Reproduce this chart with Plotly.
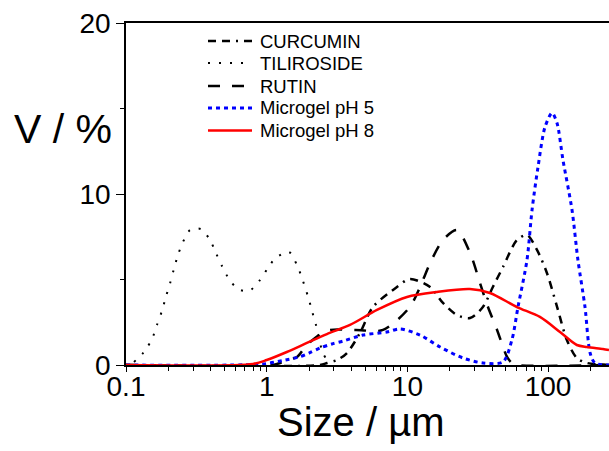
import plotly.graph_objects as go

# ---- data (size in µm, volume %) ----
cur_x = [0.1, 2.39, 2.69, 3.16, 3.72, 4.60, 5.69, 8.43, 10.4, 14.5, 17.9, 22.5, 27.9, 34.4, 40.5, 47.8, 60.1, 70.8, 83.4, 98.1, 116, 136, 160, 189, 271]
cur_y = [0, 0, 0.12, 0.29, 0.70, 1.87, 3.39, 4.56, 5.03, 4.56, 3.63, 2.92, 2.75, 3.39, 4.56, 5.73, 7.31, 7.60, 6.73, 5.38, 3.39, 1.46, 0.41, 0.12, 0]

til_x = [0.114, 0.134, 0.153, 0.166, 0.180, 0.192, 0.206, 0.219, 0.234, 0.254, 0.285, 0.341, 0.395, 0.436, 0.481, 0.540, 0.625, 0.748, 0.896, 1.02, 1.16, 1.44, 1.64, 1.78, 1.97, 2.10, 2.24, 2.51, 2.82]
til_y = [0.18, 0.76, 1.52, 2.34, 3.16, 3.98, 4.80, 5.61, 6.43, 7.19, 7.89, 7.95, 7.31, 6.55, 5.79, 5.03, 4.44, 4.33, 4.97, 5.67, 6.26, 6.61, 5.85, 5.09, 3.98, 3.16, 2.34, 0.70, 0.06]

rut_x = [0.1, 1.11, 1.39, 1.64, 1.93, 2.47, 2.82, 4.31, 6.71, 10.4, 12.9, 14.5, 17.9, 22.5, 27.9, 32.8, 37.4, 43.4, 51.1, 55.3, 60.0, 271]
rut_y = [0, 0, 0.29, 0.47, 1.17, 1.87, 2.05, 2.05, 2.05, 3.39, 4.97, 5.96, 7.31, 7.89, 6.55, 4.80, 3.39, 2.05, 0.47, 0.12, 0, 0]

ph5_x = [0.1, 0.94, 1.35, 1.70, 2.00, 2.39, 2.91, 3.49, 4.83, 7.16, 8.85, 12.3, 17.1, 24.8, 34.4, 47.8, 55.3, 61.1, 70.8, 76.9, 84.8, 95.1, 106.6, 115.7, 127.6, 148, 163, 183, 199, 215, 271]
ph5_y = [0, 0.06, 0.29, 0.47, 0.70, 0.99, 1.23, 1.40, 1.75, 1.93, 2.11, 1.75, 1.05, 0.41, 0.12, 0.18, 1.46, 3.39, 6.14, 9.06, 11.58, 13.92, 14.74, 14.15, 11.99, 9.06, 6.14, 3.39, 0.70, 0.12, 0]

ph8_x = [0.1, 0.80, 1.0, 1.39, 1.93, 2.68, 3.91, 6.08, 9.94, 16.2, 27.8, 38.6, 60.1, 87.5, 121.6, 160, 189, 245, 271]
ph8_y = [0, 0.06, 0.29, 0.76, 1.29, 1.81, 2.34, 3.22, 3.98, 4.27, 4.44, 4.21, 3.39, 2.81, 1.93, 1.17, 1.05, 0.94, 0.88]

series_names = ["CURCUMIN", "TILIROSIDE", "RUTIN", "Microgel pH 5", "Microgel pH 8"]

x_ticks = [0.1, 1, 10, 100]
x_labels = ["0.1", "1", "10", "100"]
x_minor = [0.2, 0.3, 0.4, 0.5, 0.6, 0.7, 0.8, 0.9, 2, 3, 4, 5, 6, 7, 8, 9,
           20, 30, 40, 50, 60, 70, 80, 90, 200]
y_ticks = [0, 10, 20]

FONT = "Liberation Sans, Arial, Helvetica, sans-serif"

# plot area in pixels
L, R, T, B = 126, 609, 23, 365
def px(x):
    return (x - L) / (R - L)
def py(y):
    return (B - y) / (B - T)

styles = [
    dict(color="black", width=2.5, dash="8px,6px,8px,6px,2px,6px"),
    dict(color="black", width=2, dash="2px,9px"),
    dict(color="black", width=2.5, dash="12px,12px"),
    dict(color="#0000ff", width=3, dash="4px,4px"),
    dict(color="#ff0000", width=2.5, dash="solid"),
]
data = [(cur_x, cur_y), (til_x, til_y), (rut_x, rut_y), (ph5_x, ph5_y), (ph8_x, ph8_y)]

fig = go.Figure()
for (xs, ys), name, st in zip(data, series_names, styles):
    fig.add_trace(go.Scatter(x=xs, y=ys, name=name, mode="lines", showlegend=False,
                             line=dict(shape="spline", smoothing=0.8, **st)))

# manual legend
leg_y = [41, 63, 86, 108, 130.5]
for name, st, yy in zip(series_names, styles, leg_y):
    fig.add_shape(type="line", xref="paper", yref="paper",
                  x0=px(208), x1=px(252), y0=py(yy), y1=py(yy),
                  line=dict(color=st["color"], width=st["width"], dash=st["dash"]))
    fig.add_annotation(text=name, xref="paper", yref="paper", x=px(258), y=py(yy),
                       xanchor="left", yanchor="middle", showarrow=False,
                       font=dict(size=18.5, family=FONT, color="black"))

fig.update_layout(
    width=609, height=451,
    margin=dict(l=L, r=609 - R, t=T, b=451 - B),
    paper_bgcolor="white", plot_bgcolor="white",
    font=dict(family=FONT, color="black"),
    showlegend=False,
    xaxis=dict(type="log", range=[-1, 2.433], tickvals=x_ticks, ticktext=x_labels,
               ticks="outside", ticklen=5, tickwidth=1.2, tickcolor="black",
               showline=True, linecolor="black", linewidth=1.5, mirror=True,
               showgrid=False, zeroline=False, tickfont=dict(size=28),
               ticklabelstandoff=-9, automargin=False,
               minor=dict(tickvals=x_minor, ticks="outside", ticklen=4,
                          tickcolor="black", tickwidth=1, showgrid=False)),
    yaxis=dict(range=[0, 20], tickvals=y_ticks, ticks="outside", ticklen=8, tickwidth=1.2,
               tickcolor="black", showline=True, linecolor="black", linewidth=1.5,
               mirror=False, showgrid=False, zeroline=False, tickfont=dict(size=28),
               automargin=False,
               minor=dict(tickvals=[5, 15], ticks="outside", ticklen=4,
                          tickcolor="black", tickwidth=1, showgrid=False)),
)

fig.add_annotation(text="V / %", xref="paper", yref="paper", x=px(63), y=py(129),
                   xanchor="center", yanchor="middle", showarrow=False,
                   font=dict(size=41, family=FONT))
fig.add_annotation(text="Size / µm", xref="paper", yref="paper", x=px(361), y=py(422),
                   xanchor="center", yanchor="middle", showarrow=False,
                   font=dict(size=40, family=FONT))

fig.write_html("out.html")
